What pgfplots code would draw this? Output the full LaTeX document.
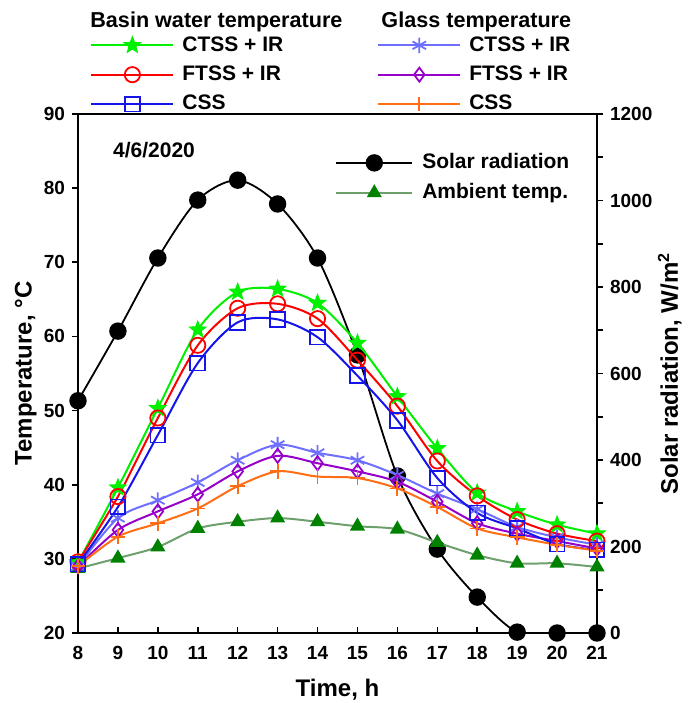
\documentclass[border=0pt]{standalone}
\usepackage{pgfplots}
\pgfplotsset{compat=1.18}
\usepackage{fontspec}
\setmainfont{Liberation Sans}
\usetikzlibrary{plotmarks}
\definecolor{cgreen}{RGB}{0,240,0}
\definecolor{cred}{RGB}{255,0,0}
\definecolor{cblue}{RGB}{20,20,235}
\definecolor{clblue}{RGB}{110,110,255}
\definecolor{cpurple}{RGB}{150,0,200}
\definecolor{corange}{RGB}{255,110,20}
\definecolor{ambline}{RGB}{110,160,110}
\definecolor{ambmark}{RGB}{0,130,0}
\pgfdeclareplotmark{fstar}{%
  \pgfpathmoveto{\pgfpointpolar{90}{\pgfplotmarksize}}%
  \pgfpathlineto{\pgfpointpolar{126}{0.42\pgfplotmarksize}}%
  \pgfpathlineto{\pgfpointpolar{162}{\pgfplotmarksize}}%
  \pgfpathlineto{\pgfpointpolar{198}{0.42\pgfplotmarksize}}%
  \pgfpathlineto{\pgfpointpolar{234}{\pgfplotmarksize}}%
  \pgfpathlineto{\pgfpointpolar{270}{0.42\pgfplotmarksize}}%
  \pgfpathlineto{\pgfpointpolar{306}{\pgfplotmarksize}}%
  \pgfpathlineto{\pgfpointpolar{342}{0.42\pgfplotmarksize}}%
  \pgfpathlineto{\pgfpointpolar{18}{\pgfplotmarksize}}%
  \pgfpathlineto{\pgfpointpolar{54}{0.42\pgfplotmarksize}}%
  \pgfpathclose\pgfusepathqfillstroke}
\pgfplotsset{
  mylegend/.style={
    legend cell align=left,
    legend style={draw=none, fill=none, inner sep=0pt, row sep=3.85pt,
      font=\fontsize{10.5}{12}\selectfont\bfseries,
      nodes={inner sep=1pt}}
  }
}
\begin{document}
\begin{tikzpicture}[font=\bfseries]
\path[use as bounding box] (-39pt,-35pt) rectangle (306pt,316.5pt);
% right axis: solar radiation
\begin{axis}[
  at={(0,0)}, anchor=south west, scale only axis,
  width=259.5pt, height=259.5pt,
  xmin=8, xmax=21, ymin=0, ymax=1200,
  axis x line=none, axis y line*=right,
  ytick={0,200,...,1200}, minor ytick={100,300,...,1100},
  tick align=outside, major tick length=3pt, minor tick length=3pt,
  tick style={black, line width=0.8pt},
  axis line style={line width=0.9pt},
  /pgf/number format/assume math mode=true,
  /pgf/number format/1000 sep={},
  yticklabel style={font=\fontsize{9.5}{11}\selectfont\bfseries},
  ylabel={Solar radiation, W/m\textsuperscript{2}},
  ylabel style={font=\fontsize{12}{14}\selectfont\bfseries, at={(axis description cs:1.104,0.5)}, anchor=north, rotate=0},
  mylegend,
  legend image code/.code={\draw[mark repeat=2,mark phase=2] plot coordinates {(0pt,0pt)(19pt,0pt)(38pt,0pt)};\path (41.5pt,0pt);},
  legend style={at={(axis description cs:0.495,0.928)}, anchor=north west},
]
\addplot[black, line width=0.9pt, smooth, mark=*, mark size=3.9pt] coordinates {
(8,537)(9,698)(10,867)(11,1001)(12,1047)(13,992)(14,867)(15,643)(16,363)(17,194)(18,83)(19,2)(20,0)(21,0)};
\addlegendentry{Solar radiation}
\addlegendimage{ambline, line width=1pt, mark=triangle*, mark options={ambmark}, mark size=3.3pt}
\addlegendentry{Ambient temp.}
\end{axis}
% left axis: temperatures
\begin{axis}[
  at={(0,0)}, anchor=south west, scale only axis,
  width=259.5pt, height=259.5pt,
  xmin=8, xmax=21, ymin=20, ymax=90,
  clip=false,
  xtick={8,...,21}, ytick={20,30,...,90},
  xtick pos=bottom, ytick pos=left,
  tick align=outside, major tick length=3pt,
  tick style={black, line width=0.8pt},
  major x tick style={yshift=3pt},
  axis line style={line width=0.9pt},
  /pgf/number format/assume math mode=true,
  ticklabel style={font=\fontsize{9.5}{11}\selectfont\bfseries},
  xlabel={Time, h},
  ylabel={Temperature, °C},
  xlabel style={font=\fontsize{12}{14}\selectfont\bfseries, at={(axis description cs:0.5,-0.11)}, anchor=center},
  ylabel style={font=\fontsize{12}{14}\selectfont\bfseries, at={(axis description cs:-0.066,0.5)}, anchor=south},
  mylegend,
  legend image code/.code={\draw[mark repeat=2,mark phase=2] plot coordinates {(0pt,0pt)(20.5pt,0pt)(41pt,0pt)};\path (44pt,0pt);},
  legend columns=2,
  legend style={at={(axis description cs:0.0231,1.154)}, anchor=north west,
    /tikz/every even column/.append style={column sep=46pt}},
  every axis plot/.append style={line width=1pt, smooth},
]
\addplot[ambline, mark=triangle*, mark size=3.4pt, mark options={ambmark}, forget plot] coordinates {
(8,28.7)(9,30.1)(10,31.6)(11,34.1)(12,35.0)(13,35.5)(14,35.0)(15,34.4)(16,34.0)(17,32.2)(18,30.5)(19,29.4)(20,29.4)(21,28.9)};
\addplot[cgreen, mark=fstar, mark size=4.3pt, mark options={fill=cgreen, line width=0.5pt}] coordinates {
(8,29.5)(9,39.6)(10,50.3)(11,60.9)(12,66.0)(13,66.4)(14,64.5)(15,59.1)(16,51.9)(17,44.9)(18,38.9)(19,36.4)(20,34.6)(21,33.4)};
\addlegendentry{CTSS + IR}
\addplot[clblue, mark=asterisk, mark size=3.9pt, mark options={line width=0.9pt}] coordinates {
(8,29.0)(9,35.5)(10,37.9)(11,40.3)(12,43.3)(13,45.4)(14,44.3)(15,43.3)(16,41.3)(17,38.8)(18,36.7)(19,34.3)(20,32.9)(21,31.9)};
\addlegendentry{CTSS + IR}
\addplot[cred, mark=o, mark size=3.8pt, mark options={line width=0.9pt}] coordinates {
(8,29.6)(9,38.4)(10,49.0)(11,58.8)(12,63.8)(13,64.4)(14,62.4)(15,56.8)(16,50.6)(17,43.2)(18,38.5)(19,35.3)(20,33.4)(21,32.4)};
\addlegendentry{FTSS + IR}
\addplot[cpurple, mark=diamond, mark size=3.5pt, mark options={line width=0.9pt}] coordinates {
(8,29.0)(9,33.9)(10,36.4)(11,38.7)(12,41.8)(13,43.9)(14,42.9)(15,41.8)(16,40.4)(17,37.7)(18,34.8)(19,33.4)(20,32.4)(21,31.4)};
\addlegendentry{FTSS + IR}
\addplot[cblue, mark=square, mark size=3.7pt, mark options={line width=0.9pt}] coordinates {
(8,29.3)(9,37.0)(10,46.7)(11,56.4)(12,61.9)(13,62.3)(14,59.9)(15,54.7)(16,48.7)(17,40.9)(18,36.2)(19,34.1)(20,32.0)(21,31.2)};
\addlegendentry{CSS}
\addplot[corange, mark=+, mark size=3.7pt, mark options={line width=0.9pt}] coordinates {
(8,29.0)(9,33.0)(10,34.8)(11,36.8)(12,39.8)(13,41.8)(14,41.1)(15,40.9)(16,39.5)(17,37.0)(18,34.1)(19,32.9)(20,31.9)(21,31.1)};
\addlegendentry{CSS}
\node[anchor=west, inner sep=0pt, font=\fontsize{10.8}{12}\selectfont\bfseries] at (axis description cs:0.0231,1.177) {Basin water temperature};
\node[anchor=west, inner sep=0pt, font=\fontsize{10.8}{12}\selectfont\bfseries] at (axis description cs:0.584,1.177) {Glass temperature};
\node[anchor=west, inner sep=0pt, font=\fontsize{10.5}{12}\selectfont\bfseries] at (axis description cs:0.067,0.931) {4/6/2020};
\end{axis}
\end{tikzpicture}
\end{document}
